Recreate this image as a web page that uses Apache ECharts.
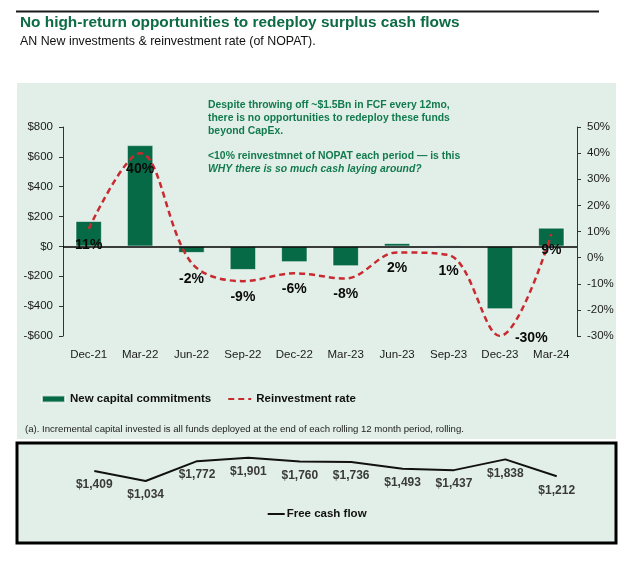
<!DOCTYPE html>
<html>
<head>
<meta charset="utf-8">
<script src="https://cdn.jsdelivr.net/npm/echarts@6/dist/echarts.min.js"></script>
<style>
html,body{margin:0;padding:0;background:#fff;}
#chart{width:640px;height:566px;}
</style>
</head>
<body>
<div id="chart"></div>
<script>
const categories = ['Dec-21','Mar-22','Jun-22','Sep-22','Dec-22','Mar-23','Jun-23','Sep-23','Dec-23','Mar-24'];
const newCapital = [170, 678, -43, -157, -105, -132, 22, 8, -420, 125];
const reinvestRate = [11, 40, -2, -9, -6, -8, 2, 1, -30, 9];
const freeCashFlow = [1409, 1034, 1772, 1901, 1760, 1736, 1493, 1437, 1838, 1212];
const leftTicks = {min: -600, max: 800, step: 200};
const rightTicks = {min: -30, max: 50, step: 10};

const titleText = 'No high-return opportunities to redeploy surplus cash flows';
const subtitleText = 'AN New investments & reinvestment rate (of NOPAT).';
const noteLines = [
  'Despite throwing off ~$1.5Bn in FCF every 12mo,',
  'there is no opportunities to redeploy these funds',
  'beyond CapEx.',
  '<10% reinvestmnet of NOPAT each period \u2014 is this',
  'WHY there is so much cash laying around?'
];
const footnote = '(a). Incremental capital invested is all funds deployed at the end of each rolling 12 month period, rolling.';

const FONT = '"Liberation Sans", Arial, sans-serif';
const GREEN = '#066a47';
const RED = '#c92a2f';
const PANEL = '#e2efe9';
const TEXTGREEN = '#137a4e';

const chart = echarts.init(document.getElementById('chart'), null, {renderer: 'canvas'});

const noteY = [105, 118, 131, 156, 169];
const graphics = [
  {type: 'rect', shape: {x: 17, y: 83, width: 599, height: 356}, style: {fill: PANEL}, z: -10, silent: true},
  {type: 'rect', shape: {x: 17, y: 443, width: 599, height: 100}, style: {fill: PANEL, stroke: '#000', lineWidth: 3}, z: -10, silent: true},
  {type: 'line', shape: {x1: 16, y1: 11.5, x2: 599, y2: 11.5}, style: {stroke: '#1a1a1a', lineWidth: 2}},
  {type: 'text', style: {x: 20, y: 23, text: titleText, fill: '#0d6b45', font: 'bold 15.4px ' + FONT, textVerticalAlign: 'middle'}},
  {type: 'text', style: {x: 20, y: 42, text: subtitleText, fill: '#111', font: '12.4px ' + FONT, textVerticalAlign: 'middle'}},
  {type: 'text', style: {x: 25, y: 429, text: footnote, fill: '#222', font: '9.6px ' + FONT, textVerticalAlign: 'middle'}}
];
noteLines.forEach((t, i) => {
  graphics.push({type: 'text', style: {x: 208, y: noteY[i], text: t, fill: TEXTGREEN,
    font: (i === 4 ? 'italic ' : '') + 'bold 10.4px ' + FONT, textVerticalAlign: 'middle'}});
});

const rateLabelData = reinvestRate.map(v => {
  if (v === -30) {
    return {value: v, label: {position: 'right', distance: 15, offset: [0, 2]}};
  }
  return v;
});

const option = {
  animation: false,
  textStyle: {fontFamily: FONT},
  graphic: graphics,
  grid: [
    {left: 63, right: 63, top: 127, bottom: 230, containLabel: false},
    {left: 68.6, right: 57.6, top: 455, bottom: 57.2, containLabel: false}
  ],
  legend: [
    {
      left: 41, top: 393, padding: 0, itemWidth: 23, itemHeight: 7, itemGap: 16,
      textStyle: {fontSize: 11.5, fontWeight: 'bold', color: '#111', fontFamily: FONT},
      data: [
        {name: 'New capital commitments', icon: 'rect'},
        {name: 'Reinvestment rate', itemStyle: {opacity: 0}}
      ]
    },
    {
      left: 266.7, top: 508, padding: 0, itemWidth: 17, itemHeight: 7, itemGap: 10,
      textStyle: {fontSize: 11.5, fontWeight: 'bold', color: '#111', fontFamily: FONT, padding: [0, 0, 0, -3]},
      data: [{name: 'Free cash flow', itemStyle: {opacity: 0}}]
    }
  ],
  xAxis: [
    {
      type: 'category', gridIndex: 0, data: categories,
      axisLine: {show: false}, axisTick: {show: false},
      axisLabel: {fontSize: 11.5, color: '#1a1a1a', margin: 13, fontFamily: FONT}
    },
    {
      type: 'category', gridIndex: 1, data: categories, show: false
    }
  ],
  yAxis: [
    {
      type: 'value', gridIndex: 0, position: 'left',
      min: leftTicks.min, max: leftTicks.max, interval: leftTicks.step,
      splitLine: {show: false},
      axisLine: {show: true, onZero: false, lineStyle: {color: '#333', width: 1}},
      axisTick: {show: true, length: 4, lineStyle: {color: '#333'}},
      axisLabel: {fontSize: 11.5, color: '#1a1a1a', margin: 10, fontFamily: FONT,
        formatter: v => (v < 0 ? '-$' + Math.abs(v) : '$' + v)}
    },
    {
      type: 'value', gridIndex: 0, position: 'right',
      min: rightTicks.min, max: rightTicks.max, interval: rightTicks.step,
      splitLine: {show: false},
      axisLine: {show: true, onZero: false, lineStyle: {color: '#333', width: 1}},
      axisTick: {show: true, length: 4, lineStyle: {color: '#333'}},
      axisLabel: {fontSize: 11.5, color: '#1a1a1a', margin: 10, fontFamily: FONT, formatter: '{value}%'}
    },
    {
      type: 'value', gridIndex: 1, min: 0, max: 2000, show: false
    }
  ],
  series: [
    {
      name: 'New capital commitments', type: 'bar', xAxisIndex: 0, yAxisIndex: 0,
      data: newCapital, barWidth: '51%',
      itemStyle: {color: GREEN, borderColor: 'rgba(255,255,255,0.7)', borderWidth: 0.8},
      markLine: {
        silent: true, symbol: 'none', label: {show: false},
        lineStyle: {color: '#000', width: 1.5, type: 'solid'},
        data: [{yAxis: 0}],
        z: 5
      }
    },
    {
      name: 'Reinvestment rate', type: 'line', xAxisIndex: 0, yAxisIndex: 1,
      data: reinvestRate, smooth: 0.35, symbol: 'none', z: 6,
      lineStyle: {color: RED, width: 2.5, type: [6, 4]},
      itemStyle: {color: RED}
    },
    {
      name: 'rateLabels', type: 'scatter', xAxisIndex: 0, yAxisIndex: 1,
      data: rateLabelData, symbolSize: 0, z: 10, silent: true,
      itemStyle: {opacity: 1},
      label: {show: true, position: 'bottom', distance: 9, formatter: '{c}%', opacity: 1,
        fontSize: 14, fontWeight: 'bold', color: '#0a0a0a', fontFamily: FONT}
    },
    {
      name: 'Free cash flow', type: 'line', xAxisIndex: 1, yAxisIndex: 2,
      data: freeCashFlow, symbol: 'none',
      lineStyle: {color: '#111', width: 2},
      itemStyle: {color: '#111'}
    },
    {
      name: 'fcfLabels', type: 'scatter', xAxisIndex: 1, yAxisIndex: 2,
      data: freeCashFlow, symbolSize: 0, z: 10, silent: true,
      itemStyle: {opacity: 1},
      label: {show: true, position: 'bottom', distance: 8, opacity: 1,
        formatter: p => '$' + p.value.toLocaleString('en-US'),
        fontSize: 12, fontWeight: 'bold', color: '#3a3a3a', fontFamily: FONT}
    }
  ]
};
chart.setOption(option);
</script>
</body>
</html>
